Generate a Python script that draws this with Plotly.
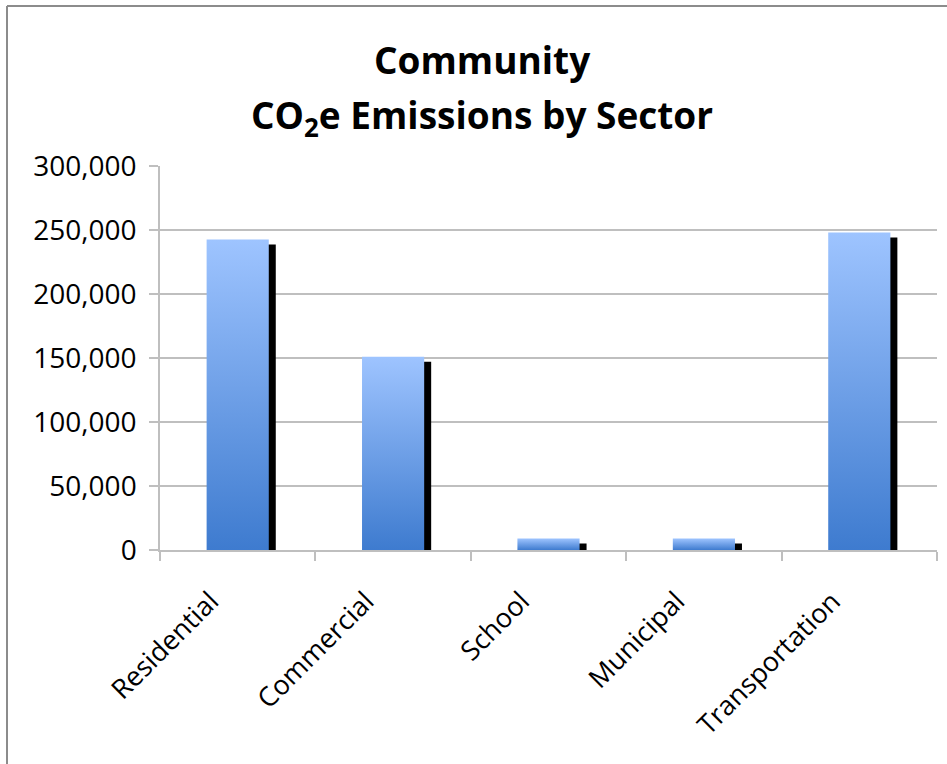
import plotly.graph_objects as go

# Community CO2e emissions by sector (tonnes)
sectors = ["Residential", "Commercial", "School", "Municipal", "Transportation"]
emissions = [242500, 151000, 9000, 9000, 248000]
y_ticks = [0, 50000, 100000, 150000, 200000, 250000, 300000]

W, H = 947, 764
M_L, M_R, M_T, M_B = 160, 10, 166, 214
PW, PH = W - M_L - M_R, H - M_T - M_B

def px_x(px):
    return (px - M_L) / PW

def px_y(py):
    return 1 - (py - M_T) / PH

BAR_HALF = 0.2
SHADOW_DX = 0.045       # shadow shift, category units
SHADOW_DY = 3900        # shadow drop, data units
TOP_COLOR = "#9EC4FF"
BOTTOM_COLOR = "#3E7BCF"

fig = go.Figure()

# drop shadows behind each bar
fig.add_trace(go.Bar(
    x=[i + SHADOW_DX for i in range(len(sectors))],
    y=[max(v - SHADOW_DY, 0) for v in emissions],
    width=2 * BAR_HALF,
    marker=dict(color="black", line=dict(width=0)),
    hoverinfo="skip",
    showlegend=False,
))

# gradient-filled bars
for i, (name, v) in enumerate(zip(sectors, emissions)):
    fig.add_trace(go.Scatter(
        x=[i - BAR_HALF, i + BAR_HALF, i + BAR_HALF, i - BAR_HALF, i - BAR_HALF],
        y=[0, 0, v, v, 0],
        mode="lines",
        line=dict(width=0, color=TOP_COLOR),
        fill="toself",
        fillgradient=dict(type="vertical",
                          colorscale=[[0, BOTTOM_COLOR], [1, TOP_COLOR]]),
        name=name,
        hovertemplate=f"{name}: %{{y:,}}<extra></extra>",
        showlegend=False,
    ))

font_family = "Open Sans, Liberation Sans, sans-serif"

fig.update_layout(
    width=W, height=H,
    margin=dict(l=M_L, r=M_R, t=M_T, b=M_B),
    paper_bgcolor="white",
    plot_bgcolor="white",
    font=dict(family=font_family, color="black"),
    showlegend=False,
    xaxis=dict(
        range=[-0.5, len(sectors) - 0.5],
        tickmode="array",
        tickvals=list(range(len(sectors))),
        ticktext=sectors,
        tickangle=-45,
        tickfont=dict(size=27),
        ticks="",
        ticklabelstandoff=23,
        ticklabelshift=-27,
        showgrid=False,
        zeroline=False,
        showline=True,
        linecolor="#BFBFBF",
        linewidth=1.5,
        minor=dict(tickmode="array",
                   tickvals=[k - 0.5 for k in range(len(sectors) + 1)],
                   ticks="outside", ticklen=9, tickcolor="#BFBFBF",
                   tickwidth=1.5, showgrid=False),
        fixedrange=True,
    ),
    yaxis=dict(
        range=[0, 300000],
        tickmode="array",
        tickvals=y_ticks,
        ticktext=[f"{t:,}" for t in y_ticks],
        tickfont=dict(size=28),
        ticks="outside",
        ticklen=9,
        tickcolor="#BFBFBF",
        tickwidth=1.5,
        ticklabelstandoff=7,
        showgrid=True,
        gridcolor="#BFBFBF",
        gridwidth=1.5,
        zeroline=False,
        showline=True,
        linecolor="#BFBFBF",
        linewidth=1.5,
        fixedrange=True,
    ),
)

# chart frame (left and top edges)
frame_color = "#8C8C8C"
fig.add_shape(type="line", xref="paper", yref="paper",
              x0=px_x(7), x1=px_x(7), y0=px_y(6), y1=px_y(H + 5),
              line=dict(color=frame_color, width=2))
fig.add_shape(type="line", xref="paper", yref="paper",
              x0=px_x(7), x1=px_x(W + 5), y0=px_y(6), y1=px_y(6),
              line=dict(color=frame_color, width=2))

# two-line title
fig.add_annotation(text="<b>Community</b>", xref="paper", yref="paper",
                   x=px_x(482), y=px_y(60), showarrow=False,
                   xanchor="center", yanchor="middle",
                   font=dict(size=37, family=font_family, color="black"))
fig.add_annotation(text="<b>CO<sub>2</sub>e Emissions by Sector</b>",
                   xref="paper", yref="paper",
                   x=px_x(482), y=px_y(117), showarrow=False,
                   xanchor="center", yanchor="middle",
                   font=dict(size=37, family=font_family, color="black"))

fig.write_html("out.html")
